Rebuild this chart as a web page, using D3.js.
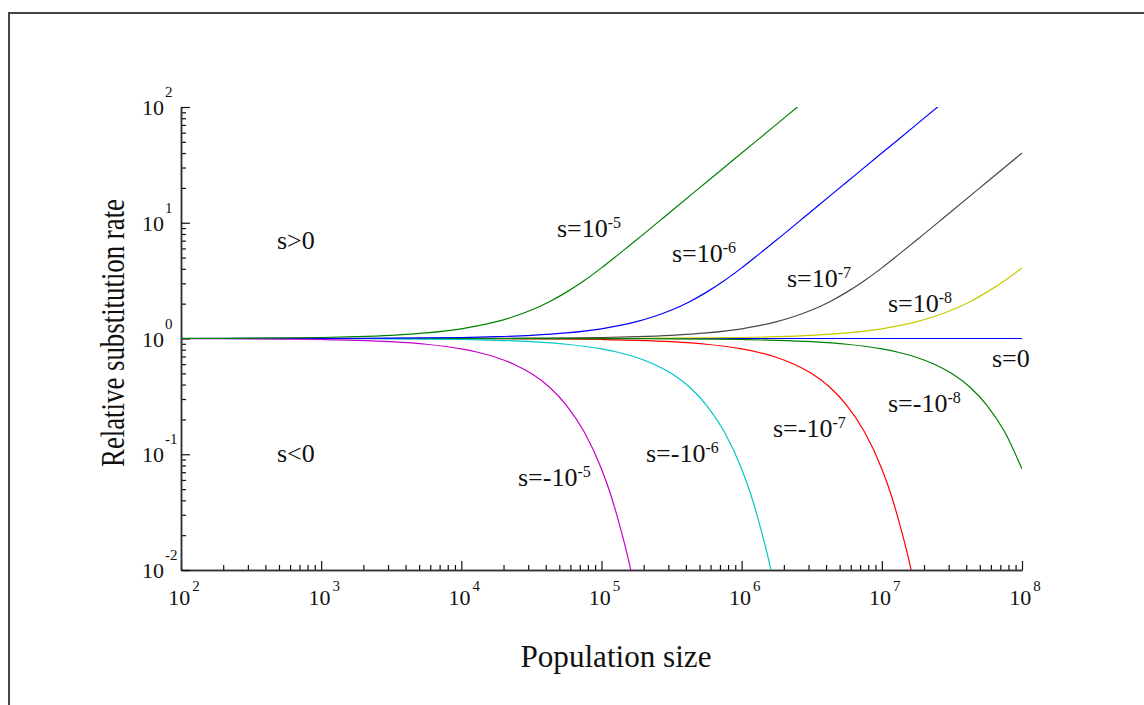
<!DOCTYPE html>
<html>
<head>
<meta charset="utf-8">
<script src="https://cdn.jsdelivr.net/npm/d3@7"></script>
<style>
  body { margin: 0; background: #fff; }
  text { font-family: 'Liberation Serif', 'Times New Roman', serif; fill: #111; }
</style>
</head>
<body>
<script>

// Population sizes (N) and relative substitution rates
const nPos5  = [1e2, 3.16e2, 1e3, 1.78e3, 3.16e3, 5.62e3, 1e4, 1.33e4, 1.78e4, 2.37e4, 3.16e4, 4.22e4, 5.62e4, 7.5e4, 1e5, 1.33e5, 1.78e5, 3.16e5, 5.62e5, 1e6, 1.78e6, 3.16e6];
const ratePos5 = [1.002, 1.006, 1.02, 1.036, 1.065, 1.117, 1.213, 1.29, 1.398, 1.548, 1.762, 2.07, 2.515, 3.157, 4.075, 5.36, 7.12, 12.65, 22.49, 40, 71.1, 126.5];

const nPos6  = [1e2, 1e3, 3.16e3, 1e4, 1.78e4, 3.16e4, 5.62e4, 1e5, 1.33e5, 1.78e5, 2.37e5, 3.16e5, 4.22e5, 5.62e5, 7.5e5, 1e6, 1.33e6, 1.78e6, 3.16e6, 5.62e6, 1e7, 1.78e7, 3.16e7];
const ratePos6 = [1.0002, 1.002, 1.006, 1.02, 1.036, 1.065, 1.117, 1.213, 1.29, 1.398, 1.548, 1.762, 2.07, 2.515, 3.157, 4.075, 5.36, 7.12, 12.65, 22.49, 40, 71.1, 126.5];

const nPos7  = [1e2, 1e3, 1e4, 3.16e4, 1e5, 1.78e5, 3.16e5, 5.62e5, 1e6, 1.33e6, 1.78e6, 2.37e6, 3.16e6, 4.22e6, 5.62e6, 7.5e6, 1e7, 1.33e7, 1.78e7, 3.16e7, 5.62e7, 1e8];
const ratePos7 = [1, 1.0002, 1.002, 1.006, 1.02, 1.036, 1.065, 1.117, 1.213, 1.29, 1.398, 1.548, 1.762, 2.07, 2.515, 3.157, 4.075, 5.36, 7.12, 12.65, 22.49, 40];

const nPos8  = [1e2, 1e4, 1e5, 3.16e5, 1e6, 1.78e6, 3.16e6, 5.62e6, 1e7, 1.33e7, 1.78e7, 2.37e7, 3.16e7, 4.22e7, 5.62e7, 7.5e7, 1e8];
const ratePos8 = [1, 1.0002, 1.002, 1.006, 1.02, 1.036, 1.065, 1.117, 1.213, 1.29, 1.398, 1.548, 1.762, 2.07, 2.515, 3.157, 4.075];

const nZero = [1e2, 1e8];
const rateZero = [1, 1];

const nNeg8  = [1e2, 1e4, 1e5, 3.16e5, 1e6, 1.78e6, 3.16e6, 5.62e6, 1e7, 1.33e7, 1.78e7, 2.37e7, 3.16e7, 4.22e7, 5.62e7, 7.5e7, 1e8];
const rateNeg8 = [1, 0.9998, 0.998, 0.994, 0.98, 0.965, 0.938, 0.892, 0.813, 0.757, 0.686, 0.6, 0.498, 0.383, 0.265, 0.157, 0.0746];

const nNeg7  = [1e2, 1e3, 1e4, 3.16e4, 1e5, 1.78e5, 3.16e5, 5.62e5, 1e6, 1.33e6, 1.78e6, 2.37e6, 3.16e6, 4.22e6, 5.62e6, 7.5e6, 1e7, 1.155e7, 1.33e7, 1.54e7, 1.78e7];
const rateNeg7 = [1, 0.9998, 0.998, 0.994, 0.98, 0.965, 0.938, 0.892, 0.813, 0.757, 0.686, 0.6, 0.498, 0.383, 0.265, 0.157, 0.0746, 0.046, 0.0258, 0.013, 0.0058];

const nNeg6  = [1e2, 1e3, 3.16e3, 1e4, 1.78e4, 3.16e4, 5.62e4, 1e5, 1.33e5, 1.78e5, 2.37e5, 3.16e5, 4.22e5, 5.62e5, 7.5e5, 1e6, 1.155e6, 1.33e6, 1.54e6, 1.78e6];
const rateNeg6 = [0.9998, 0.998, 0.994, 0.98, 0.965, 0.938, 0.892, 0.813, 0.757, 0.686, 0.6, 0.498, 0.383, 0.265, 0.157, 0.0746, 0.046, 0.0258, 0.013, 0.0058];

const nNeg5  = [1e2, 3.16e2, 1e3, 1.78e3, 3.16e3, 5.62e3, 1e4, 1.33e4, 1.78e4, 2.37e4, 3.16e4, 4.22e4, 5.62e4, 7.5e4, 1e5, 1.155e5, 1.33e5, 1.54e5, 1.78e5];
const rateNeg5 = [0.998, 0.994, 0.98, 0.965, 0.938, 0.892, 0.813, 0.757, 0.686, 0.6, 0.498, 0.383, 0.265, 0.157, 0.0746, 0.046, 0.0258, 0.013, 0.0058];

// Series in drawing order, with line colors
const series = [
  { n: nZero, r: rateZero, color: '#0000ff' },
  { n: nPos8, r: ratePos8, color: '#c8c800' },
  { n: nPos7, r: ratePos7, color: '#4a4a4a' },
  { n: nNeg7, r: rateNeg7, color: '#ff0000' },
  { n: nNeg8, r: rateNeg8, color: '#008000' },
  { n: nNeg6, r: rateNeg6, color: '#00c8c8' },
  { n: nPos6, r: ratePos6, color: '#0000ff' },
  { n: nNeg5, r: rateNeg5, color: '#c800c8' },
  { n: nPos5, r: ratePos5, color: '#008000' }
];

// Curve labels: base text, superscript, anchor point
const labelText  = ['s>0', 's<0', 's=10', 's=10', 's=10', 's=10', 's=0', 's=-10', 's=-10', 's=-10', 's=-10'];
const labelSup   = ['', '', '-5', '-6', '-7', '-8', '', '-8', '-7', '-6', '-5'];
const labelX     = [277, 277, 557, 672, 787, 888, 992, 888, 773, 646, 518];
const labelY     = [249, 462, 237, 262, 287, 312, 367, 412, 437, 462, 486];

// Tick exponents
const xExponents = [2, 3, 4, 5, 6, 7, 8];
const yExponents = [-2, -1, 0, 1, 2];

// Set up SVG
const width = 1144, height = 705;
const svg = d3.select('body').append('svg')
  .attr('width', width)
  .attr('height', height);

// Outer frame
svg.append('rect')
  .attr('x', 9).attr('y', 13)
  .attr('width', 1300).attr('height', 900)
  .attr('fill', 'none')
  .attr('stroke', '#444')
  .attr('stroke-width', 2);

// Scales
const x = d3.scaleLog().domain([1e2, 1e8]).range([181, 1022]);
const y = d3.scaleLog().domain([1e-2, 1e2]).range([570, 107]);

// Minor tick values (2..9 of each decade)
function minorTicks(lo, hi) {
  const out = [];
  for (let e = lo; e < hi; e++) {
    for (let m = 2; m <= 9; m++) out.push(m * Math.pow(10, e));
  }
  return out;
}

// Axes, ticks pointing inside
svg.append('g').attr('transform', 'translate(0,570)')
  .call(d3.axisBottom(x).tickValues(minorTicks(2, 8)).tickSize(-5).tickSizeOuter(0).tickFormat(''));
svg.append('g').attr('transform', 'translate(0,570)')
  .call(d3.axisBottom(x).tickValues(xExponents.map(e => Math.pow(10, e))).tickSize(-9).tickSizeOuter(0).tickFormat(''));
svg.append('g').attr('transform', 'translate(181,0)')
  .call(d3.axisLeft(y).tickValues(minorTicks(-2, 2)).tickSize(-5).tickSizeOuter(0).tickFormat(''));
svg.append('g').attr('transform', 'translate(181,0)')
  .call(d3.axisLeft(y).tickValues(yExponents.map(e => Math.pow(10, e))).tickSize(-9).tickSizeOuter(0).tickFormat(''));

svg.selectAll('.domain').attr('stroke', '#333').attr('stroke-width', 1.5);
svg.selectAll('.tick line').attr('stroke', '#111').attr('stroke-width', 1.2);

// X tick labels
xExponents.forEach(e => {
  const t = svg.append('text')
    .attr('x', x(Math.pow(10, e)) + 3)
    .attr('y', 605)
    .attr('text-anchor', 'middle')
    .attr('font-size', 22);
  t.append('tspan').text('10');
  t.append('tspan').attr('font-size', 15).attr('dx', 2).attr('dy', -14).text(e);
});

// Y tick labels
yExponents.forEach(e => {
  svg.append('text')
    .attr('x', 164)
    .attr('y', y(Math.pow(10, e)) + 8)
    .attr('text-anchor', 'end')
    .attr('font-size', 22)
    .text('10');
  svg.append('text')
    .attr('x', 165)
    .attr('y', y(Math.pow(10, e)) - 10)
    .attr('font-size', 15)
    .text(e);
});

// Clip curves to the plot area
svg.append('clipPath').attr('id', 'plot-clip')
  .append('rect')
  .attr('x', 181).attr('y', 107)
  .attr('width', 841).attr('height', 463);

const line = d3.line()
  .x(d => x(d[0]))
  .y(d => y(d[1]))
  .curve(d3.curveMonotoneX);

svg.append('g')
  .attr('clip-path', 'url(#plot-clip)')
  .selectAll('path')
  .data(series)
  .join('path')
    .attr('d', d => line(d.n.map((v, i) => [v, d.r[i]])))
    .attr('fill', 'none')
    .attr('stroke', d => d.color)
    .attr('stroke-width', 1.2);

// Curve labels
labelText.forEach((txt, i) => {
  const t = svg.append('text')
    .attr('x', labelX[i])
    .attr('y', labelY[i])
    .attr('font-size', 26);
  t.append('tspan').text(txt);
  if (labelSup[i]) {
    t.append('tspan').attr('font-size', 16).attr('dy', -9).text(labelSup[i]);
  }
});

// Axis titles
svg.append('text')
  .attr('x', 616)
  .attr('y', 667)
  .attr('text-anchor', 'middle')
  .attr('font-size', 31)
  .attr('textLength', 191)
  .attr('lengthAdjust', 'spacingAndGlyphs')
  .text('Population size');

svg.append('text')
  .attr('transform', 'translate(124,333) rotate(-90)')
  .attr('text-anchor', 'middle')
  .attr('font-size', 33)
  .attr('textLength', 268)
  .attr('lengthAdjust', 'spacingAndGlyphs')
  .text('Relative substitution rate');

</script>
</body>
</html>
